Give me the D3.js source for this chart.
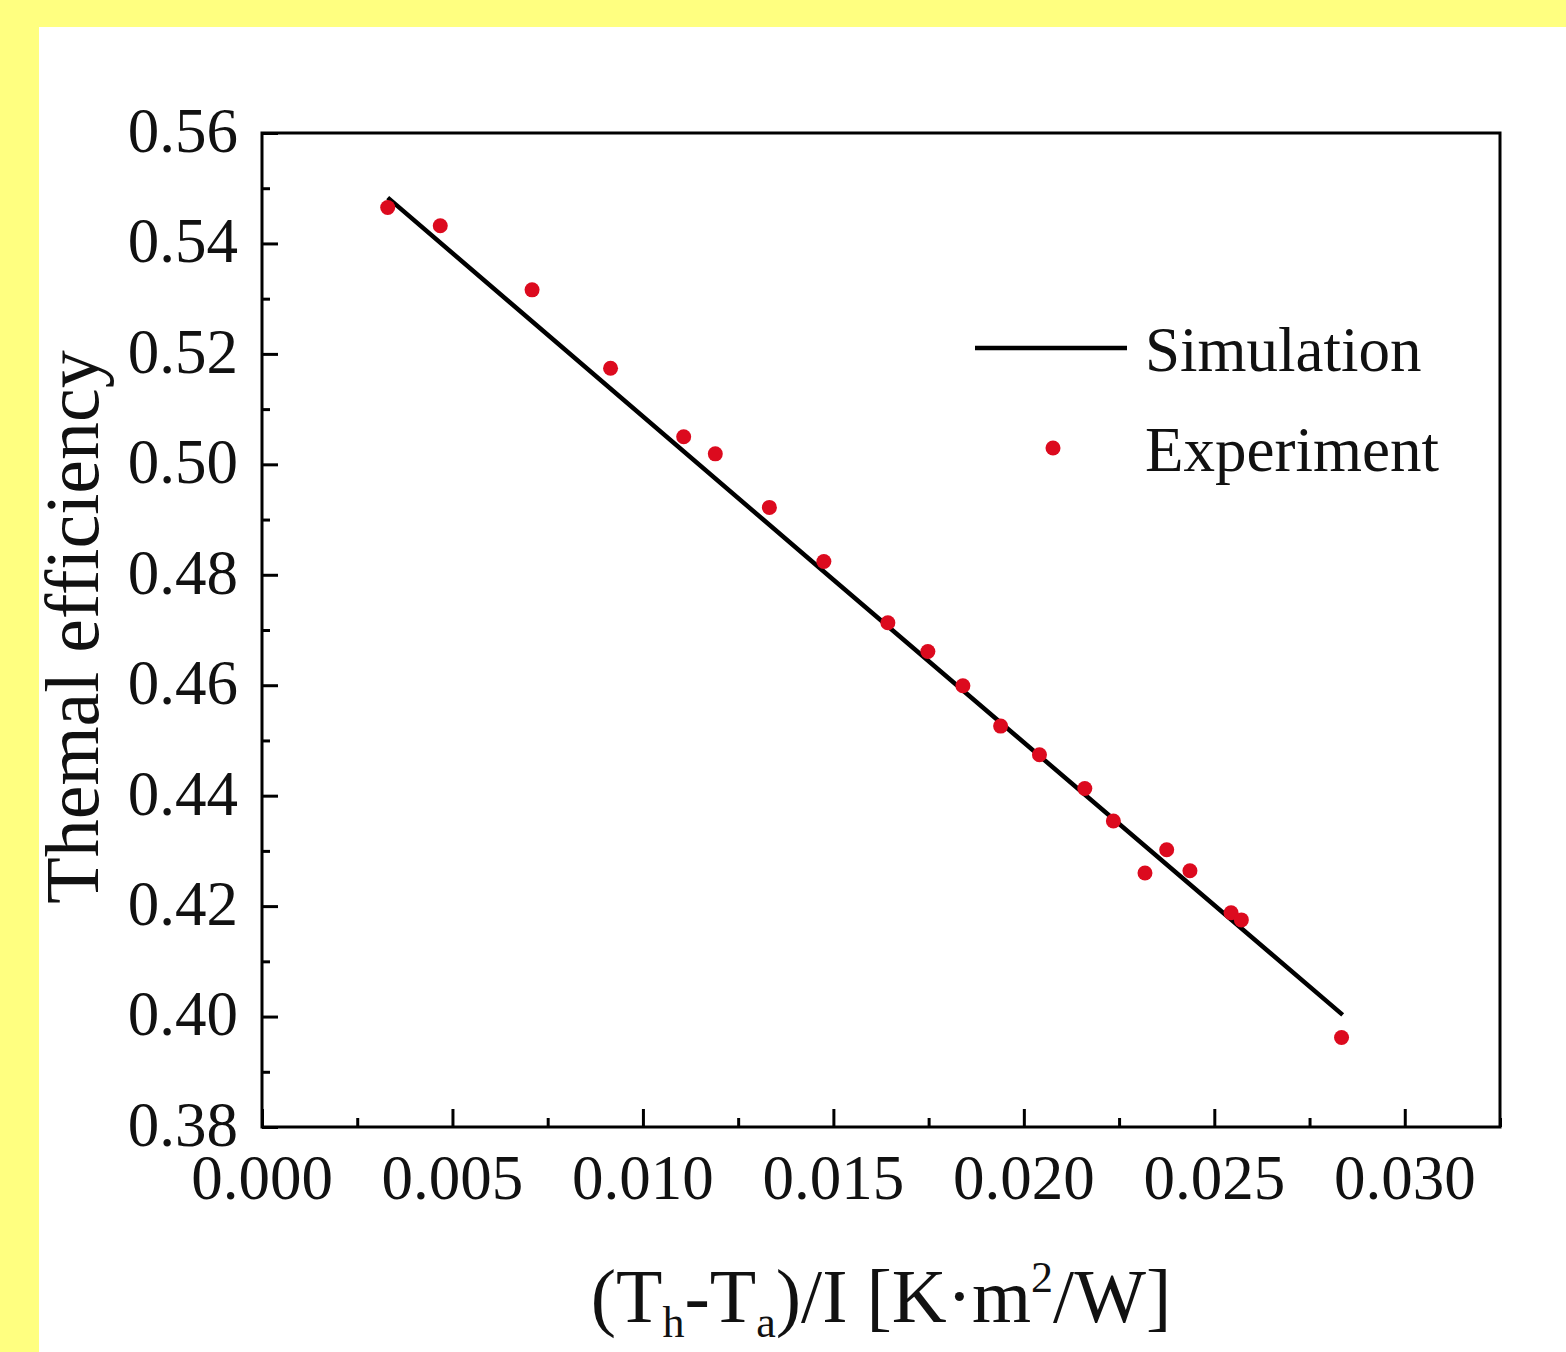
<!DOCTYPE html>
<html>
<head>
<meta charset="utf-8">
<script src="https://cdn.jsdelivr.net/npm/d3@7"></script>
<style>
  html, body { margin: 0; padding: 0; background: #ffff80; }
  svg { display: block; }
  text { font-family: "Liberation Serif", "Times New Roman", serif; fill: #111; }
</style>
</head>
<body>
<svg id="chart" width="1566" height="1352"></svg>
<script>
// experiment points
const expX = [0.00330, 0.00468, 0.00709, 0.00915, 0.01107, 0.01190, 0.01332, 0.01475,
              0.01643, 0.01748, 0.01840, 0.01939, 0.02041, 0.02160, 0.02235, 0.02318,
              0.02375, 0.02436, 0.02544, 0.02571, 0.02834];
const expY = [0.5465, 0.5432, 0.5316, 0.5174, 0.5050, 0.5019, 0.4922, 0.4824,
              0.4713, 0.4661, 0.4599, 0.4526, 0.4474, 0.4413, 0.4354, 0.4260,
              0.4302, 0.4264, 0.4188, 0.4175, 0.3962];

// simulation line
const simX = [0.00330, 0.01500, 0.02837];
const simY = [0.5483, 0.4791, 0.4003];

const xTicks = [0.000, 0.005, 0.010, 0.015, 0.020, 0.025, 0.030];
const yTicks = [0.38, 0.40, 0.42, 0.44, 0.46, 0.48, 0.50, 0.52, 0.54, 0.56];

const plotLeft = 262, plotRight = 1500, plotTop = 133, plotBottom = 1127;

let svg = d3.select('#chart');

// white panel over the yellow
svg.append('rect')
    .attr('x', 39).attr('y', 27)
    .attr('width', 1566 - 39).attr('height', 1352 - 27)
    .attr('fill', '#fff');

let x = d3.scaleLinear().domain([0, 0.0325]).range([plotLeft, plotRight]);
let y = d3.scaleLinear().domain([0.38, 0.56]).range([plotBottom, plotTop]);

// minor ticks
let xMinor = [0.0025, 0.0075, 0.0125, 0.0175, 0.0225, 0.0275, 0.0325];
let yMinor = [0.39, 0.41, 0.43, 0.45, 0.47, 0.49, 0.51, 0.53, 0.55];

let xAxisMinor = svg.append('g')
    .attr('transform', `translate(0,${plotBottom})`)
    .call(d3.axisTop(x).tickValues(xMinor).tickSize(9).tickFormat(''));
let yAxisMinor = svg.append('g')
    .attr('transform', `translate(${plotLeft},0)`)
    .call(d3.axisRight(y).tickValues(yMinor).tickSize(8).tickFormat(''));

// major ticks (inward)
let xAxis = svg.append('g')
    .attr('transform', `translate(0,${plotBottom})`)
    .call(d3.axisTop(x).tickValues(xTicks).tickSize(18).tickFormat(''));
let yAxis = svg.append('g')
    .attr('transform', `translate(${plotLeft},0)`)
    .call(d3.axisRight(y).tickValues(yTicks).tickSize(16).tickFormat(''));

[xAxisMinor, yAxisMinor, xAxis, yAxis].forEach(g => {
    g.select('.domain').remove();
    g.selectAll('line').attr('stroke', '#000').attr('stroke-width', 3);
});

// tick labels
svg.append('g').selectAll('text')
    .data(xTicks).join('text')
    .attr('x', d => x(d))
    .attr('y', 1199)
    .attr('text-anchor', 'middle')
    .attr('font-size', 63)
    .text(d => d3.format('.3f')(d));

svg.append('g').selectAll('text')
    .data(yTicks).join('text')
    .attr('x', 238)
    .attr('y', d => y(d))
    .attr('dy', '0.3em')
    .attr('text-anchor', 'end')
    .attr('font-size', 63)
    .text(d => d3.format('.2f')(d));

// frame
svg.append('rect')
    .attr('x', plotLeft).attr('y', plotTop)
    .attr('width', plotRight - plotLeft).attr('height', plotBottom - plotTop)
    .attr('fill', 'none')
    .attr('stroke', '#000')
    .attr('stroke-width', 3);

// simulation line
let simData = simX.map((v, i) => [v, simY[i]]);
svg.append('path')
    .datum(simData)
    .attr('fill', 'none')
    .attr('stroke', '#000')
    .attr('stroke-width', 4.5)
    .attr('d', d3.line().x(d => x(d[0])).y(d => y(d[1])));

// experiment points
let expData = expX.map((v, i) => [v, expY[i]]);
svg.append('g').selectAll('circle')
    .data(expData).join('circle')
    .attr('cx', d => x(d[0]))
    .attr('cy', d => y(d[1]))
    .attr('r', 7.5)
    .attr('fill', '#dc0a1e');

// legend
svg.append('line')
    .attr('x1', 975).attr('x2', 1127)
    .attr('y1', 348).attr('y2', 348)
    .attr('stroke', '#000').attr('stroke-width', 4.5);
svg.append('text')
    .attr('x', 1145).attr('y', 371)
    .attr('font-size', 63)
    .text('Simulation');
svg.append('circle')
    .attr('cx', 1053).attr('cy', 448)
    .attr('r', 7.5)
    .attr('fill', '#dc0a1e');
svg.append('text')
    .attr('x', 1145).attr('y', 471)
    .attr('font-size', 63)
    .text('Experiment');

// axis titles
svg.append('text')
    .attr('transform', 'translate(98,627) rotate(-90)')
    .attr('text-anchor', 'middle')
    .attr('font-size', 76)
    .text('Themal efficiency');

let xt = svg.append('text')
    .attr('x', (plotLeft + plotRight) / 2)
    .attr('y', 1322)
    .attr('text-anchor', 'middle')
    .attr('font-size', 76);
xt.append('tspan').text('(T');
xt.append('tspan').attr('font-size', 44).attr('dy', 15).text('h');
xt.append('tspan').attr('dy', -15).text('-T');
xt.append('tspan').attr('font-size', 44).attr('dy', 15).text('a');
xt.append('tspan').attr('dy', -15).text(')/I [K\u00b7m');
xt.append('tspan').attr('font-size', 44).attr('dy', -30).text('2');
xt.append('tspan').attr('dy', 30).text('/W]');
</script>
</body>
</html>
